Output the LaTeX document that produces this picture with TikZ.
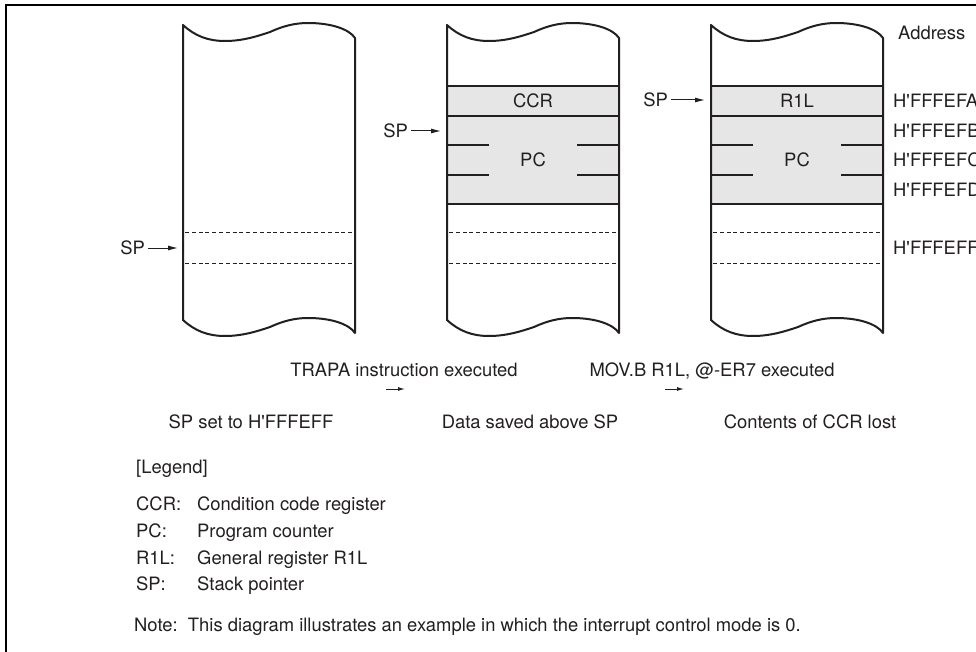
\documentclass[tikz,border=0pt]{standalone}
\usepackage{fontspec}
\setmainfont{TeX Gyre Heros}[Ligatures=TeXOff]
\usetikzlibrary{arrows.meta}
\definecolor{ink}{HTML}{231F20}
\definecolor{band}{HTML}{E6E6E7}
\tikzset{
  outline/.style={draw=ink, line width=2pt, line join=round},
  rowline/.style={draw=ink, line width=2pt},
  dashrow/.style={draw=ink, line width=1pt, dash pattern=on 4pt off 2.8pt},
  lbl/.style={font=\fontsize{18.4}{21}\selectfont, text=ink, inner sep=0pt,
    text height=13.2pt, text depth=0pt},
  spl/.style={lbl, anchor=east},
  sparrow/.style={draw=ink, line width=1pt, -{Latex[length=10pt,width=5pt]}},
  smallarrow/.style={draw=ink, line width=1pt, -{Latex[length=7pt,width=4pt]}},
  addr/.style={lbl, anchor=west},
  leg/.style={lbl, anchor=west},
}
\newcommand\stackoutline{%
  \path[outline] (0,25) .. controls (12,36) and (25,41) .. (42,41)
    .. controls (60,41) and (75,36) .. (87,32)
    .. controls (100,26) and (112,23) .. (125,23)
    .. controls (148,23) and (166,29) .. (172,38) -- (172,333)
    .. controls (166,324) and (148,318) .. (125,318)
    .. controls (112,318) and (100,321) .. (87,327)
    .. controls (75,331) and (60,336) .. (42,336)
    .. controls (25,336) and (12,331) .. (0,320) -- cycle;}
\newcommand\dashrows{%
  \path[dashrow] (2,233) -- (170,233);
  \path[dashrow] (2,263) -- (170,263);}
\newcommand\bandrows{%
  \fill[band] (0,86) rectangle (172,204);
  \path[rowline] (0,86) -- (172,86);
  \path[rowline] (0,116) -- (172,116);
  \path[rowline] (0,145) -- (42,145);
  \path[rowline] (130,145) -- (172,145);
  \path[rowline] (0,175) -- (42,175);
  \path[rowline] (130,175) -- (172,175);
  \path[rowline] (0,204) -- (172,204);}
\begin{document}
\begin{tikzpicture}[x=1pt,y=-1pt]
\useasboundingbox (0,0) rectangle (976,652);
\fill[white] (0,0) rectangle (976,652);
% frame
\draw[black, line width=2.6pt] (6,660) -- (6,5) -- (990,5);

% stack 1
\begin{scope}[xshift=183pt]
  \dashrows
  \stackoutline
  \node[spl] (sp1) at (-38,248) {SP};
  \coordinate (sp1t) at (-5,248);
\end{scope}
\draw[sparrow] ([xshift=3pt]sp1.east) -- (sp1t);

% stack 2
\begin{scope}[xshift=447pt]
  \bandrows
  \dashrows
  \stackoutline
  \node[lbl] (ccr2) at (86,101) {CCR};
  \node[lbl] (pc2) at (86,160) {PC};
  \node[spl] (sp2) at (-39,131) {SP};
  \coordinate (sp2t) at (-6,131);
\end{scope}
\draw[sparrow] ([xshift=3pt]sp2.east) -- (sp2t);

% stack 3
\begin{scope}[xshift=711pt]
  \bandrows
  \dashrows
  \stackoutline
  \node[lbl] (r1l3) at (86,101) {R1L};
  \node[lbl] (pc3) at (86,160) {PC};
  \node[spl] (sp3) at (-43,100) {SP};
  \coordinate (sp3t) at (-6,100);
\end{scope}
\draw[sparrow] ([xshift=3pt]sp3.east) -- (sp3t);

% addresses
\node[addr] (adr) at (898,33) {Address};
\node[addr] (a1) at (893,101) {H'FFFEFA};
\node[addr] (a2) at (893,131) {H'FFFEFB};
\node[addr] (a3) at (893,160) {H'FFFEFC};
\node[addr] (a4) at (893,190) {H'FFFEFD};
\node[addr] (a5) at (893,248) {H'FFFEFF};

% transitions
\node[lbl] (t1) at (404,370) {TRAPA instruction executed};
\coordinate (t1a) at (386,389);
\coordinate (t1b) at (405,389);
\draw[smallarrow] (t1a) -- (t1b);
\node[lbl] (t2) at (712,370) {MOV.B R1L, @-ER7 executed};
\coordinate (t2a) at (665,389);
\coordinate (t2b) at (684,389);
\draw[smallarrow] (t2a) -- (t2b);

% captions
\node[lbl] (c1) at (251,422) {SP set to H'FFFEFF};
\node[lbl] (c2) at (530,422) {Data saved above SP};
\node[lbl] (c3) at (810,422) {Contents of CCR lost};

% legend
\node[leg] (lg) at (136,467) {[Legend]};
\node[leg] (l1) at (136,504) {CCR:};
\node[leg] (d1) at (197,504) {Condition code register};
\node[leg] (l2) at (136,531) {PC:};
\node[leg] (d2) at (197,531) {Program counter};
\node[leg] (l3) at (136,558) {R1L:};
\node[leg] (d3) at (197,558) {General register R1L};
\node[leg] (l4) at (136,584) {SP:};
\node[leg] (d4) at (197,584) {Stack pointer};
\node[leg] (nt) at (134,625) {Note:\ \ This diagram illustrates an example in which the interrupt control mode is 0.};
\end{tikzpicture}
\end{document}
